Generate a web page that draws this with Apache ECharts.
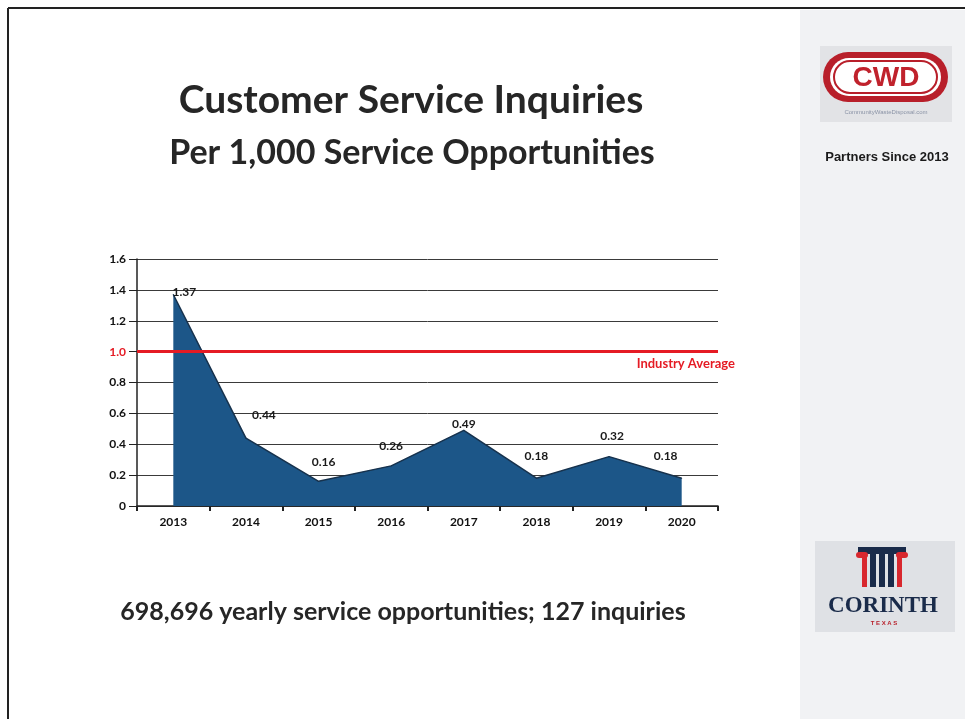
<!DOCTYPE html>
<html>
<head>
<meta charset="utf-8">
<script src="https://cdn.jsdelivr.net/npm/echarts@6/dist/echarts.min.js"></script>
<style>
  html, body { margin: 0; padding: 0; background: #fff; }
  #chart { width: 965px; height: 719px; }
</style>
</head>
<body>
<div id="chart"></div>
<script>
// data
var years = ['2013', '2014', '2015', '2016', '2017', '2018', '2019', '2020'];
var inquiries = [1.37, 0.44, 0.16, 0.26, 0.49, 0.18, 0.32, 0.18];
var industryAverage = 1.0;
// label nudges so the numbers sit where they do on the slide
var labelOffsets = [[11, 14], [18, -6], [5, -3], [0, -3], [0, 10], [0, -6], [3, -4], [-16, -6]];

var myChart = echarts.init(document.getElementById('chart'));

var seriesData = inquiries.map(function (v, i) {
  return { value: v, label: { offset: labelOffsets[i] } };
});

var option = {
  backgroundColor: '#ffffff',
  animation: false,
  textStyle: { fontFamily: 'Lato' },
  title: [
    {
      text: 'Customer Service Inquiries',
      left: 406, top: 76, textAlign: 'center',
      textStyle: { fontSize: 39, fontWeight: 'bold', color: '#262626', fontFamily: 'Lato' }
    },
    {
      text: 'Per 1,000 Service Opportunities',
      left: 407, top: 131, textAlign: 'center',
      textStyle: { fontSize: 34, fontWeight: 'bold', color: '#262626', fontFamily: 'Lato' }
    }
  ],
  grid: { left: 137, right: 247, top: 259, bottom: 213, containLabel: false },
  xAxis: {
    type: 'category',
    data: years,
    boundaryGap: true,
    axisLine: { lineStyle: { color: '#222', width: 1.5 } },
    axisTick: { show: true, length: 5, lineStyle: { color: '#222', width: 2 } },
    axisLabel: { color: '#111', fontWeight: 'bold', fontSize: 12, margin: 10 }
  },
  yAxis: {
    type: 'value',
    min: 0, max: 1.6, interval: 0.2,
    axisLine: { show: true, lineStyle: { color: '#222', width: 1.5 } },
    axisTick: { show: true, length: 8, lineStyle: { color: '#222' } },
    splitLine: { lineStyle: { color: '#3a3a3a', width: 1 } },
    axisLabel: {
      fontWeight: 'bold', fontSize: 12, color: '#111', margin: 11,
      formatter: function (v) {
        if (v === 0) return '0';
        if (Math.abs(v - 1) < 1e-9) return '{r|1.0}';
        return v.toFixed(1);
      },
      rich: { r: { color: '#e51b24', fontWeight: 'bold', fontSize: 12 } }
    }
  },
  series: [{
    name: 'Inquiries per 1,000',
    type: 'line',
    data: seriesData,
    symbol: 'circle',
    symbolSize: 1,
    showSymbol: true,
    itemStyle: { color: '#17324d' },
    lineStyle: { color: '#17324d', width: 1.5 },
    areaStyle: { color: '#1c5688', opacity: 1 },
    label: {
      show: true, position: 'top', distance: 10,
      fontWeight: 'bold', fontSize: 12, color: '#1a1a1a'
    },
    markLine: {
      silent: true,
      symbol: 'none',
      data: [{ yAxis: industryAverage }],
      lineStyle: { color: '#e51b24', width: 3, type: 'solid' },
      label: {
        position: 'insideEndBottom',
        formatter: 'Industry Average',
        color: '#e51b24', fontWeight: 'bold', fontSize: 13, distance: [-17, 6]
      }
    }
  }],
  graphic: [
    // slide frame
    { type: 'line', shape: { x1: 8, y1: 8, x2: 965, y2: 8 }, style: { stroke: '#222', lineWidth: 2 } },
    { type: 'line', shape: { x1: 8, y1: 8, x2: 8, y2: 719 }, style: { stroke: '#222', lineWidth: 2 } },
    // side panel
    { type: 'rect', shape: { x: 800, y: 10, width: 165, height: 709 }, style: { fill: '#f1f2f4' }, z: -1 },
    // CWD logo
    { type: 'rect', shape: { x: 820, y: 46, width: 132, height: 76 }, style: { fill: '#e2e3e6' } },
    { type: 'rect', shape: { x: 823, y: 52, width: 125, height: 50, r: 25 }, style: { fill: '#b81f2a' } },
    { type: 'rect', shape: { x: 830, y: 58, width: 111, height: 38, r: 19 }, style: { fill: '#ffffff' } },
    { type: 'rect', shape: { x: 834, y: 61, width: 103, height: 32, r: 16 }, style: { fill: 'none', stroke: '#b81f2a', lineWidth: 2 } },
    { type: 'text', style: { text: 'CWD', x: 886, y: 78, textAlign: 'center', textVerticalAlign: 'middle', fill: '#c0222c', font: 'bold 28px "Liberation Sans"' } },
    { type: 'text', style: { text: 'CommunityWasteDisposal.com', x: 886, y: 112, textAlign: 'center', textVerticalAlign: 'middle', fill: '#8a93a6', font: '6px "Liberation Sans"' } },
    { type: 'text', style: { text: 'Partners Since 2013', x: 887, y: 157, textAlign: 'center', textVerticalAlign: 'middle', fill: '#1a1a1a', font: 'bold 13px "Liberation Sans Narrow", "Liberation Sans"' } },
    // Corinth logo
    { type: 'rect', shape: { x: 815, y: 541, width: 140, height: 91 }, style: { fill: '#dfe1e5' } },
    { type: 'rect', shape: { x: 858, y: 547, width: 48, height: 7 }, style: { fill: '#1a2b4a' } },
    { type: 'rect', shape: { x: 856, y: 552, width: 12, height: 6, r: 3 }, style: { fill: '#d8272e' } },
    { type: 'rect', shape: { x: 896, y: 552, width: 12, height: 6, r: 3 }, style: { fill: '#d8272e' } },
    { type: 'rect', shape: { x: 862, y: 556, width: 5, height: 31 }, style: { fill: '#d8272e' } },
    { type: 'rect', shape: { x: 870, y: 554, width: 6, height: 33 }, style: { fill: '#1a2b4a' } },
    { type: 'rect', shape: { x: 879, y: 554, width: 6, height: 33 }, style: { fill: '#1a2b4a' } },
    { type: 'rect', shape: { x: 888, y: 554, width: 6, height: 33 }, style: { fill: '#1a2b4a' } },
    { type: 'rect', shape: { x: 897, y: 556, width: 5, height: 31 }, style: { fill: '#d8272e' } },
    { type: 'text', style: { text: 'CORINTH', x: 883, y: 606, textAlign: 'center', textVerticalAlign: 'middle', fill: '#1a2b4a', font: 'bold 23px "Liberation Serif"' } },
    { type: 'text', style: { text: 'T E X A S', x: 884, y: 623, textAlign: 'center', textVerticalAlign: 'middle', fill: '#b81f2a', font: 'bold 6px "Liberation Sans"' } },
    // footer note
    { type: 'text', style: { text: '698,696 yearly service opportunities; 127 inquiries', x: 403, y: 612, textAlign: 'center', textVerticalAlign: 'middle', fill: '#262626', font: 'bold 25px Lato' } }
  ]
};

myChart.setOption(option);
</script>
</body>
</html>
